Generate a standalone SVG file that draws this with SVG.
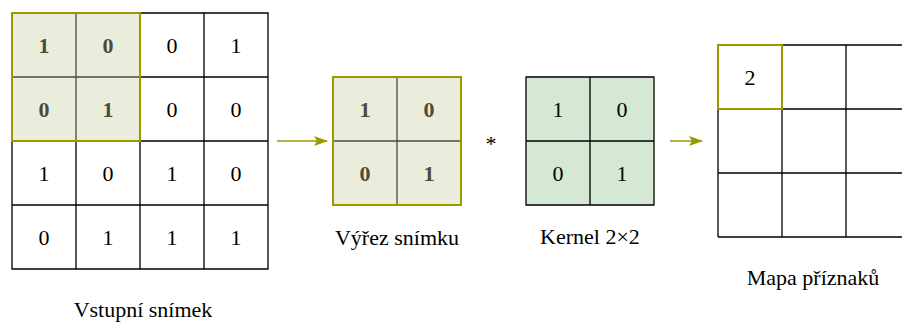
<svg xmlns="http://www.w3.org/2000/svg" width="902" height="322" viewBox="0 0 902 322" font-family="Liberation Serif, Times New Roman, serif" font-size="22">
<defs>
<style>
text{text-anchor:middle;fill:#000}
.b{font-weight:bold;fill:#4B4B38}
.g{stroke:#000;stroke-width:1.3;fill:none}
.hl{fill:#EBEDDC;stroke:none}
.hi{stroke:#4B4B40;stroke-width:1.3;fill:none}
.ol{stroke:#999900;stroke-width:2;fill:none}
.k{fill:#D5E8D4;stroke:none}
.arr{stroke:#999900;stroke-width:1.5;fill:none}
</style>
<marker id="ah" viewBox="0 0 14 10" refX="13" refY="5" markerWidth="14" markerHeight="10" markerUnits="userSpaceOnUse" orient="auto">
<path d="M0,0 L14,5 L0,10 L3,5 Z" fill="#999900"/>
</marker>
</defs>
<g id="input">
<rect class="hl" x="12" y="13" width="128" height="128"/>
<path class="g" d="M140,13H268V269H12V141 M140,77H268 M12,205H268 M140,141H268 M204,13V269 M76,141V269 M140,141V269"/>
<path class="hi" d="M76,13V141 M12,77H140"/>
<rect class="ol" x="12" y="13" width="128" height="128"/>
<text class="b" x="44" y="52.5">1</text><text class="b" x="108" y="52.5">0</text><text x="172" y="52.5">0</text><text x="236" y="52.5">1</text>
<text class="b" x="44" y="116.5">0</text><text class="b" x="108" y="116.5">1</text><text x="172" y="116.5">0</text><text x="236" y="116.5">0</text>
<text x="44" y="180.5">1</text><text x="108" y="180.5">0</text><text x="172" y="180.5">1</text><text x="236" y="180.5">0</text>
<text x="44" y="244.5">0</text><text x="108" y="244.5">1</text><text x="172" y="244.5">1</text><text x="236" y="244.5">1</text>
<text x="143" y="317">Vstupní snímek</text>
</g>
<g id="patch">
<rect class="hl" x="333" y="77" width="128" height="128"/>
<path class="hi" d="M397,77V205 M333,141H461"/>
<rect class="ol" x="333" y="77" width="128" height="128"/>
<text class="b" x="365" y="116.5">1</text><text class="b" x="429" y="116.5">0</text>
<text class="b" x="365" y="180.5">0</text><text class="b" x="429" y="180.5">1</text>
<text x="397" y="245">Výřez snímku</text>
</g>
<g id="op">
<text x="491" y="151">*</text>
</g>
<g id="kernel">
<rect class="k" x="526" y="77" width="128" height="128"/>
<path class="g" d="M526,77H654V205H526Z M590,77V205 M526,141H654"/>
<text x="558" y="116.5">1</text><text x="622" y="116.5">0</text>
<text x="558" y="180.5">0</text><text x="622" y="180.5">1</text>
<text x="590" y="243.5">Kernel 2×2</text>
</g>
<g id="featuremap">
<path class="g" d="M782,45H910 M718,109H910 M718,173H910 M718,237H910 M718,45V237 M782,45V237 M846,45V237"/>
<rect class="ol" x="718" y="45" width="64" height="64"/>
<text x="750" y="84.5">2</text>
<text x="813" y="285">Mapa příznaků</text>
</g>
<g id="connectors">
<line class="arr" x1="277" y1="141" x2="327" y2="141" marker-end="url(#ah)"/>
<line class="arr" x1="670" y1="141" x2="702" y2="141" marker-end="url(#ah)"/>
</g>
</svg>
